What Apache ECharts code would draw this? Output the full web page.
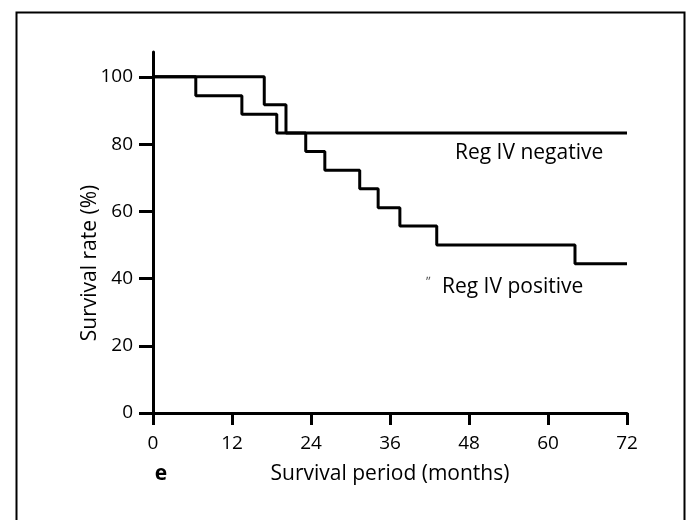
<!DOCTYPE html>
<html>
<head>
<meta charset="utf-8">
<script src="https://cdn.jsdelivr.net/npm/echarts@6/dist/echarts.min.js"></script>
<style>
html,body{margin:0;padding:0;background:#fff;}
#c{width:688px;height:520px;}
</style>
</head>
<body>
<div id="c"></div>
<script>
// Kaplan-Meier step data
var followUpEnd = 72;
var negTimes = [16.9, 20.2];
var negSurv  = [91.7, 83.3];
var posTimes = [6.5, 13.5, 18.8, 23.2, 26.1, 31.4, 34.2, 37.5, 43.1, 64.1];
var posSurv  = [94.4, 88.9, 83.3, 77.8, 72.2, 66.7, 61.1, 55.6, 50.0, 44.4];
var xTicks = [0, 12, 24, 36, 48, 60, 72];
var yTicks = [0, 20, 40, 60, 80, 100];
var seriesNames = ['Reg IV negative', 'Reg IV positive'];

function kmPoints(times, surv) {
  var pts = [[0, 100]];
  for (var i = 0; i < times.length; i++) pts.push([times[i], surv[i]]);
  pts.push([followUpEnd, surv[surv.length - 1]]);
  return pts;
}

var FONT = 'Open Sans';
var W = '500';
var chart = echarts.init(document.getElementById('c'), null, {renderer: 'canvas'});
chart.setOption({
  backgroundColor: '#ffffff',
  animation: false,
  grid: {left: 153, right: 61, top: 52, bottom: 107, containLabel: false},
  xAxis: {
    type: 'value', min: 0, max: 72, interval: 12,
    axisLine: {show: true, lineStyle: {color: '#000', width: 3}},
    axisTick: {show: true, length: 12, lineStyle: {color: '#000', width: 3}},
    axisLabel: {margin: 21, color: '#000', fontSize: 19, fontWeight: W, fontFamily: FONT},
    splitLine: {show: false}
  },
  yAxis: {
    type: 'value', min: 0, max: 107.4,
    axisLine: {show: true, onZero: false, lineStyle: {color: '#000', width: 3}},
    axisTick: {show: true, length: 14, customValues: yTicks, lineStyle: {color: '#000', width: 3}},
    axisLabel: {margin: 20, color: '#000', fontSize: 19, fontWeight: W, fontFamily: FONT, customValues: yTicks},
    splitLine: {show: false}
  },
  series: [
    {
      name: seriesNames[1], type: 'line', step: 'end', symbol: 'none',
      data: kmPoints(posTimes, posSurv),
      lineStyle: {color: '#000', width: 3}
    },
    {
      name: seriesNames[0], type: 'line', step: 'end', symbol: 'none',
      data: kmPoints(negTimes, negSurv),
      lineStyle: {color: '#000', width: 3}
    }
  ],
  graphic: [
    {type: 'rect', left: 14, top: 10, shape: {width: 668, height: 530},
     style: {fill: 'none', stroke: '#000', lineWidth: 2}},
    {type: 'text', left: 455, top: 143, style: {text: seriesNames[0], fill: '#000', font: W + ' 21px "Open Sans"'}},
    {type: 'text', left: 442, top: 277, style: {text: seriesNames[1], fill: '#000', font: W + ' 21px "Open Sans"'}},
    {type: 'text', left: 426, top: 276, style: {text: '\u02BC\u02BC', fill: '#555', font: '13px "Open Sans"'}},
    {type: 'text', x: 390, y: 474, style: {text: 'Survival period (months)', fill: '#000', font: W + ' 21px "Open Sans"', textAlign: 'center', textVerticalAlign: 'middle'}},
    {type: 'text', x: 161, y: 474, style: {text: 'e', fill: '#000', font: 'bold 21px "Open Sans"', textAlign: 'center', textVerticalAlign: 'middle'}},
    {type: 'text', x: 90, y: 263, rotation: Math.PI / 2, style: {text: 'Survival rate (%)', fill: '#000', font: W + ' 21px "Open Sans"', textAlign: 'center', textVerticalAlign: 'middle'}}
  ]
});
</script>
</body>
</html>
